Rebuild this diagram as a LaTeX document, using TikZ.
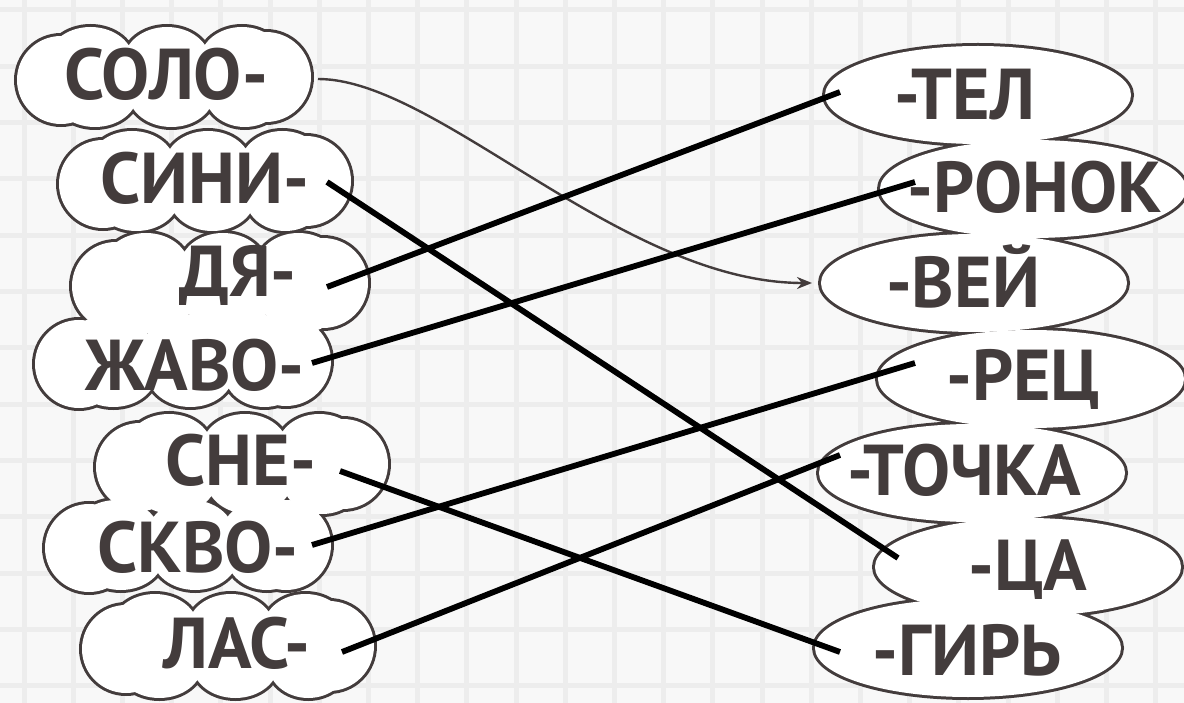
\documentclass[tikz,border=0pt]{standalone}
\usepackage{fontspec}
\setmainfont{PT Sans}
\usetikzlibrary{arrows.meta,calc,shapes.geometric}
\definecolor{inkgray}{HTML}{433C3C}
\definecolor{paper}{HTML}{F8F8F8}
\definecolor{gridgray}{HTML}{EDEDED}

\tikzset{
  pics/puffy/.style 2 args={code={
    \path[pic actions]
      ({-#1+44},3) circle[radius=44]
      ({#1-45},0) circle[radius=45]
      ({-0.5*#1},{-#2+34}) ellipse[x radius=43,y radius=34]
      ({0.02*#1},{-#2+34}) ellipse[x radius=43,y radius=34]
      ({0.53*#1},{-#2+34}) ellipse[x radius=42,y radius=34]
      ({-0.47*#1},{#2-34}) ellipse[x radius=43,y radius=34]
      ({0.05*#1},{#2-34}) ellipse[x radius=43,y radius=34]
      ({0.55*#1},{#2-34}) ellipse[x radius=40,y radius=34]
      (0,0) ellipse[x radius={#1-44},y radius={#2-22}];
  }}
}

\begin{document}
\begin{tikzpicture}[x=1pt,y=-1pt,
  oval/.style={ellipse,inner sep=0pt,minimum width=306pt,minimum height=98pt},
  rim/.style={draw=inkgray,line width=6pt},
  word/.style={text=inkgray,font=\fontsize{72}{72}\selectfont\bfseries,inner sep=0pt,anchor=base},
  link/.style={line width=5.8pt},
  hint/.style={draw=inkgray,line width=2.4pt,-{Stealth[length=15pt,width=12pt]}}]

  % squared paper
  \useasboundingbox (0,0) rectangle (1184,703);
  \fill[paper] (0,0) rectangle (1184,703);
  \foreach \gx in {0,...,23}
    \draw[gridgray,line width=5pt] ({24+49.2*\gx},0) -- ({24+49.2*\gx},703);
  \foreach \gy in {0,...,12}
    \draw[gridgray,line width=5pt] (0,{10+56.3*\gy}) -- (1184,{10+56.3*\gy});

  \def\puffrow{1/164/77/147/50, 2/205/181/146/50, 3/220/283/148/50,
    4/183/361/148/46, 5/242/464/146/50, 6/188/545/143/45, 7/228/646/146/52}
  \def\ovalrow{1/978/95, 2/1033/189, 3/974/283, 4/1031/379,
    5/972/473, 6/1028/567, 7/968/648}

  \foreach \n/\x/\y/\a/\b in \puffrow
    \coordinate (c\n) at (\x,\y);

  % rims first, then white bodies: each column reads as one outline
  \foreach \n/\x/\y/\a/\b in \puffrow
    \pic[rim] at (c\n) {puffy={\a}{\b}};
  \foreach \n/\x/\y in \ovalrow
    \node[oval,rim] (er\n) at (\x,\y) {};
  \foreach \n/\x/\y/\a/\b in \puffrow
    \pic[fill=white] at (c\n) {puffy={\a}{\b}};
  \foreach \n/\x/\y in \ovalrow
    \node[oval,fill=white] (e\n) at (\x,\y) {};

  % beginnings
  \node[word] (w1) at (166,100) {СОЛО-};
  \node[word] (w2) at (205,204) {СИНИ-};
  \node[word] (w3) at (238,297) {ДЯ-};
  \node[word] (w4) at (195,391) {ЖАВО-};
  \node[word] (w5) at (241,485) {СНЕ-};
  \node[word] (w6) at (198,572) {СКВО-};
  \node[word] (w7) at (237,668) {ЛАС-};

  % endings
  \node[word] (t1) at (965,120) {-ТЕЛ};
  \node[word] (t2) at (1035,213) {-РОНОК};
  \node[word] (t3) at (963,308) {-ВЕЙ};
  \node[word] (t4) at (1023,400) {-РЕЦ};
  \node[word] (t5) at (964,495) {-ТОЧКА};
  \node[word] (t6) at (1028,590) {-ЦА};
  \node[word] (t7) at (967,675) {-ГИРЬ};

  % sample answer
  \draw[hint] ($(c1)+(154,2)$) .. controls +(120,0) and +(-190,0) .. ($(e3)+(-162,0)$);

  % pupil's lines
  \draw[link] ($(c2)+(122,1)$) -- ($(e6)+(-130,-9)$);
  \draw[link] ($(c3)+(107,4)$) -- ($(e1)+(-138,-3)$);
  \draw[link] ($(c4)+(129,2)$) -- ($(e2)+(-118,-7)$);
  \draw[link] ($(c5)+(98,7)$) -- ($(e7)+(-128,4)$);
  \draw[link] ($(c6)+(124,0)$) -- ($(e4)+(-116,-16)$);
  \draw[link] ($(c7)+(114,6)$) -- ($(e5)+(-132,-18)$);
\end{tikzpicture}
\end{document}
